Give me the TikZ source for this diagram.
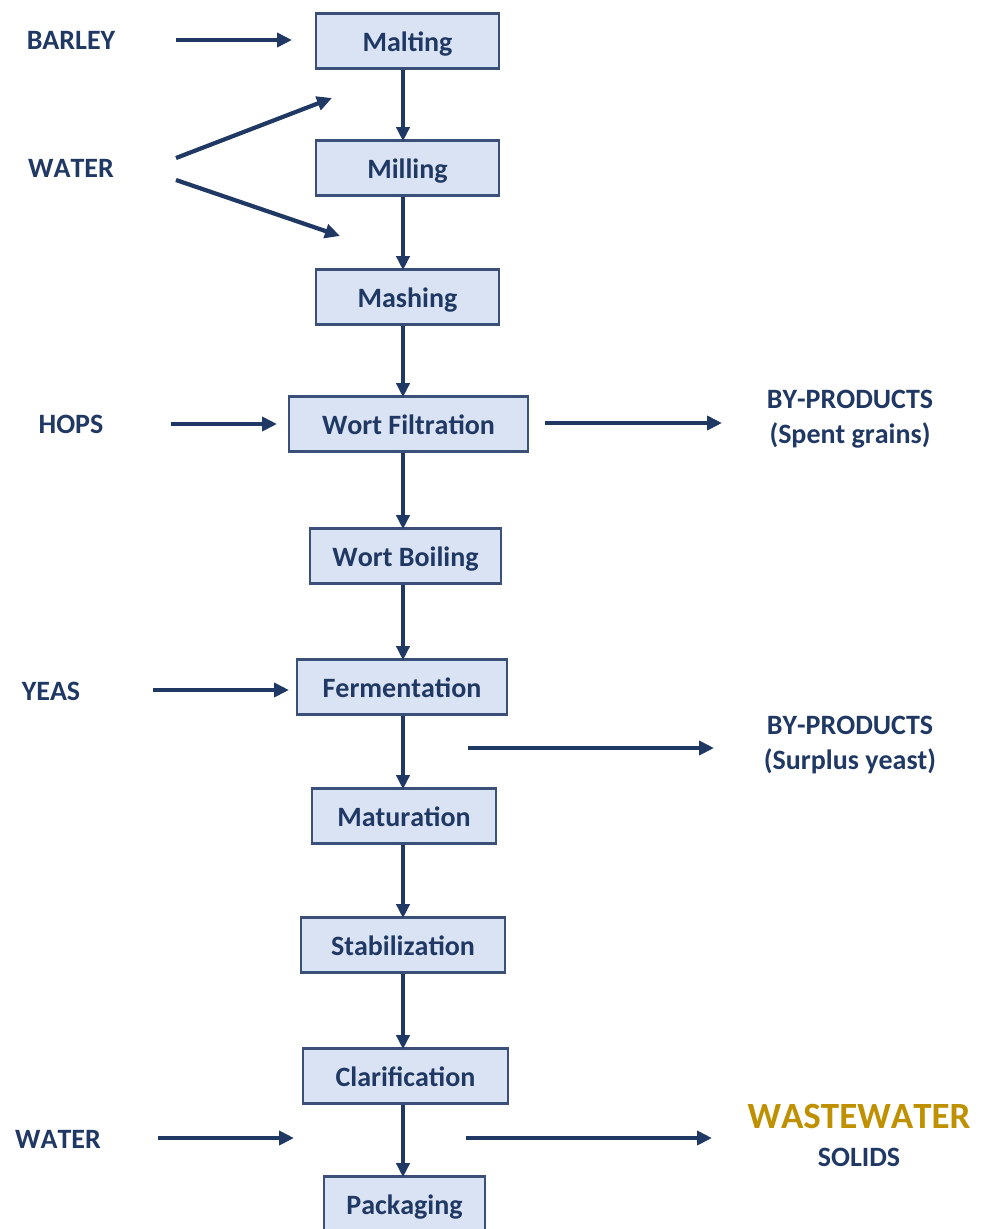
\documentclass[tikz,border=0pt]{standalone}
\usepackage{fontspec}
\setmainfont{Carlito}[Kerning=Off]
\usetikzlibrary{arrows.meta}
\definecolor{navy}{HTML}{203864}
\definecolor{boxfill}{HTML}{DAE3F3}
\definecolor{boxline}{HTML}{3B5078}
\definecolor{gold}{HTML}{BF9000}
\tikzset{
  stepbox/.style={draw=boxline, line width=2.6pt, fill=boxfill, text=navy, inner sep=0pt,
    minimum height=55pt, text height=21pt, text depth=0pt, font=\fontsize{28}{30}\selectfont\bfseries},
  lbl/.style={text=navy, inner sep=0pt, align=center, font=\fontsize{28}{35}\selectfont\bfseries},
  flow/.style={draw=navy, line width=4.2pt, -{Triangle[length=15pt,width=14pt]}},
  vflow/.style={draw=navy, line width=3.8pt, -{Triangle[length=14pt,width=13pt]}}
}
\begin{document}
\begin{tikzpicture}[x=1pt,y=-1pt]
\useasboundingbox (0,0) rectangle (989,1229);
\fill[white] (0,0) rectangle (989,1229);
% boxes
\node[stepbox, minimum width=183pt] (malt) at (407.5,41) {Malting};
\node[stepbox, minimum width=183pt] (mill) at (407.5,168) {Milling};
\node[stepbox, minimum width=183pt] (mash) at (407.5,297) {Mashing};
\node[stepbox, minimum width=239pt] (filt) at (408.5,424) {Wort Filtration};
\node[stepbox, minimum width=191pt] (boil) at (405.5,556) {Wort Boiling};
\node[stepbox, minimum width=210pt] (ferm) at (402,687) {Fermentation};
\node[stepbox, minimum width=184pt] (matu) at (404,816) {Maturation};
\node[stepbox, minimum width=204pt] (stab) at (403,945) {Stabilization};
\node[stepbox, minimum width=205pt] (clar) at (405.5,1076) {Clarification};
\node[stepbox, minimum width=161pt] (pack) at (404.5,1204) {Packaging};
% vertical flow
\foreach \a/\b in {malt/mill,mill/mash,mash/filt,filt/boil,boil/ferm,ferm/matu,matu/stab,stab/clar,clar/pack}
  \draw[vflow] (\a.south -| 403,0) -- ([yshift=-2pt]\b.north -| 403,0);
% left labels
\node[lbl] (barley) at (71,40) {BARLEY};
\node[lbl] (water1) at (71,168) {WATER};
\node[lbl] (hops) at (71,424) {HOPS};
\node[lbl] (yeas) at (51,691) {YEAS};
\node[lbl] (water2) at (58,1139) {WATER};
% right labels
\node[lbl] (bp1) at (850,419) {BY-PRODUCTS\\(Spent grains)};
\node[lbl] (bp2) at (850,745) {BY-PRODUCTS\\(Surplus yeast)};
\node[text=gold, inner sep=0pt, font=\fontsize{37}{40}\selectfont\bfseries] (ww) at (859,1116) {WASTEWATER};
\node[lbl] (solids) at (859,1157) {SOLIDS};
% coordinates
\coordinate (b0) at (176,40);  \coordinate (b1) at (292,40);
\coordinate (w0) at (176,158); \coordinate (w1) at (332,98);
\coordinate (w2) at (176,180); \coordinate (w3) at (340,236);
\coordinate (h0) at (171,424); \coordinate (h1) at (277,424);
\coordinate (y0) at (153,690); \coordinate (y1) at (289,690);
\coordinate (v0) at (158,1138); \coordinate (v1) at (294,1138);
\coordinate (s0) at (545,423); \coordinate (s1) at (722,423);
\coordinate (f0) at (468,748); \coordinate (f1) at (714,748);
\coordinate (c0) at (466,1138); \coordinate (c1) at (712,1138);
\draw[flow] (b0) -- (b1);
\draw[flow] (w0) -- (w1);
\draw[flow] (w2) -- (w3);
\draw[flow] (h0) -- (h1);
\draw[flow] (y0) -- (y1);
\draw[flow] (v0) -- (v1);
\draw[flow] (s0) -- (s1);
\draw[flow] (f0) -- (f1);
\draw[flow] (c0) -- (c1);
\end{tikzpicture}
\end{document}
